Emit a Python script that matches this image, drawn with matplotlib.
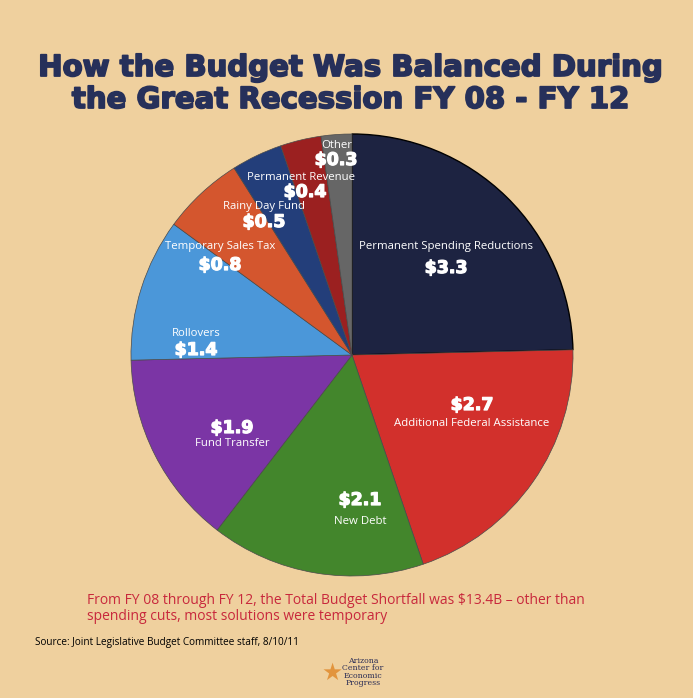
import matplotlib.pyplot as plt
import matplotlib.patheffects as pe

# budget solutions FY08-FY12, billions of dollars
names = ['Permanent Spending Reductions', 'Additional Federal Assistance',
         'New Debt', 'Fund Transfer', 'Rollovers', 'Temporary Sales Tax',
         'Rainy Day Fund', 'Permanent Revenue', 'Other']
values = [3.3, 2.7, 2.1, 1.9, 1.4, 0.8, 0.5, 0.4, 0.3]
colors = ['#1d2341', '#d2302c', '#43862c', '#7b35a5', '#4b97d9',
          '#d4562e', '#233e7a', '#9b2020', '#666666']

bg = '#efd09e'
W, H = 693, 698
cx, cy, r = 352, 355, 221

fig = plt.figure(figsize=(W / 100, H / 100), dpi=100)
fig.patch.set_facecolor(bg)

ax = fig.add_axes([(cx - r) / W, (H - cy - r) / H, 2 * r / W, 2 * r / H])
ax.set_facecolor('none')
wedges, _ = ax.pie(values, colors=colors, startangle=90, counterclock=False,
                   radius=1, wedgeprops=dict(edgecolor='#4a4a4a', linewidth=0.5))
wedges[0].set_edgecolor('#000000')
wedges[0].set_linewidth(1.0)
ax.set_xlim(-1, 1)
ax.set_ylim(-1, 1)
ax.axis('off')


def px(x, y):
    return (x - cx) / r, (cy - y) / r


# label spots (pixels): name position, value position
name_pos = [(446, 247), (472, 423), (360, 521), (232, 443), (196, 333),
            (220, 246), (264, 207), (301, 178), (337, 146)]
value_pos = [(446, 268), (472, 405), (360, 500), (232, 428), (196, 350),
             (220, 265), (264, 222), (305, 192), (336, 160)]

heavy_white = [pe.withStroke(linewidth=0.9, foreground='white')]
for n, v, npos, vpos in zip(names, values, name_pos, value_pos):
    ax.text(*px(*npos), n, color='white', fontsize=8.2, ha='center',
            va='center', family='Open Sans')
    ax.text(*px(*vpos), f'${v:.1f}', color='white', fontsize=12.5,
            fontweight='bold', ha='center', va='center', family='DejaVu Sans',
            path_effects=heavy_white)

title_color = '#26305a'
title_kw = dict(color=title_color, fontsize=21, fontweight='heavy',
                ha='center', va='center', family='DejaVu Sans',
                path_effects=[pe.withStroke(linewidth=1.3, foreground=title_color)])
fig.text(350 / W, 1 - 68 / H, 'How the Budget Was Balanced During', **title_kw)
fig.text(350 / W, 1 - 100 / H, 'the Great Recession FY 08 - FY 12', **title_kw)

note_kw = dict(color='#c8283c', fontsize=10, ha='left', va='center',
               family='Open Sans')
fig.text(87 / W, 1 - 600 / H,
         'From FY 08 through FY 12, the Total Budget Shortfall was $13.4B \u2013 other than',
         **note_kw)
fig.text(87 / W, 1 - 617 / H, 'spending cuts, most solutions were temporary', **note_kw)

fig.text(35 / W, 1 - 643 / H, 'Source: Joint Legislative Budget Committee staff, 8/10/11',
         color='black', fontsize=7.2, ha='left', va='center', family='Open Sans')

# small logo in the footer
fig.text(332 / W, 1 - 673 / H, '\u2605', color='#e08a2c', fontsize=17,
         ha='center', va='center', family='DejaVu Sans', alpha=0.85)
fig.text(363 / W, 1 - 672 / H, 'Arizona\nCenter for\nEconomic\nProgress',
         color='#2b2d55', fontsize=5.6, ha='center', va='center',
         family='DejaVu Serif', linespacing=0.85)

fig.savefig('out.png', dpi=100, facecolor=bg)
